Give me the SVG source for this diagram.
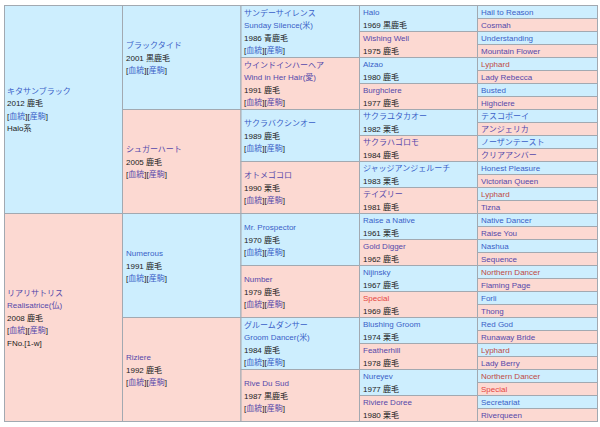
<svg xmlns="http://www.w3.org/2000/svg" width="600" height="427" viewBox="0 0 600 427">
<style>
text{font-family:"Liberation Sans","Noto Sans CJK JP",sans-serif;font-size:8px;fill:#222}
.b{fill:#cdeefe;stroke:#a2a9b1;stroke-width:1}
.p{fill:#fcd9d2;stroke:#a2a9b1;stroke-width:1}
.m{fill:#3a5fc8}
.f{fill:#5548aa}
.r{fill:#bf4a44}
.rs{fill:#e5463f}
</style>
<rect x="0" y="0" width="600" height="427" fill="#ffffff"/>
<!-- Column 1 -->
<g id="kitasan-black"><rect class="b" x="4.5" y="5.5" width="118" height="208"/>
<text x="7" y="93.75" class="m">キタサンブラック</text>
<text x="7" y="106.25">2012 鹿毛</text>
<text x="7" y="118.75">[<tspan class="m">血統</tspan>][<tspan class="m">産駒</tspan>]</text>
<text x="7" y="131.25">Halo系</text></g>
<g id="realisatrice"><rect class="p" x="4.5" y="213.5" width="118" height="208"/>
<text x="7" y="295.5" class="f">リアリサトリス</text>
<text x="7" y="308" class="f">Realisatrice(仏)</text>
<text x="7" y="320.5">2008 鹿毛</text>
<text x="7" y="333">[<tspan class="f">血統</tspan>][<tspan class="f">産駒</tspan>]</text>
<text x="7" y="345.5">FNo.[1-w]</text></g>
<!-- Column 2 -->
<g id="black-tide"><rect class="b" x="122.5" y="5.5" width="118.5" height="104"/>
<text x="126" y="48" class="m">ブラックタイド</text>
<text x="126" y="60.5">2001 黒鹿毛</text>
<text x="126" y="73">[<tspan class="m">血統</tspan>][<tspan class="m">産駒</tspan>]</text></g>
<g id="sugar-heart"><rect class="p" x="122.5" y="109.5" width="118.5" height="104"/>
<text x="126" y="152" class="f">シュガーハート</text>
<text x="126" y="164.5">2005 鹿毛</text>
<text x="126" y="177">[<tspan class="f">血統</tspan>][<tspan class="f">産駒</tspan>]</text></g>
<g id="numerous"><rect class="b" x="122.5" y="213.5" width="118.5" height="104"/>
<text x="126" y="256" class="m">Numerous</text>
<text x="126" y="268.5">1991 鹿毛</text>
<text x="126" y="281">[<tspan class="m">血統</tspan>][<tspan class="m">産駒</tspan>]</text></g>
<g id="riziere"><rect class="p" x="122.5" y="317.5" width="118.5" height="104"/>
<text x="126" y="360" class="f">Riziere</text>
<text x="126" y="372.5">1992 鹿毛</text>
<text x="126" y="385">[<tspan class="f">血統</tspan>][<tspan class="f">産駒</tspan>]</text></g>
<!-- Column 3 -->
<g id="sunday-silence"><rect class="b" x="241" y="5.5" width="118.5" height="52"/>
<text x="244" y="15.75" class="m">サンデーサイレンス</text>
<text x="244" y="28.25" class="m">Sunday Silence(米)</text>
<text x="244" y="40.75">1986 青鹿毛</text>
<text x="244" y="53.25">[<tspan class="m">血統</tspan>][<tspan class="m">産駒</tspan>]</text></g>
<g id="wind-in-her-hair"><rect class="p" x="241" y="57.5" width="118.5" height="52"/>
<text x="244" y="67.75" class="f">ウインドインハーヘア</text>
<text x="244" y="80.25" class="f">Wind in Her Hair(愛)</text>
<text x="244" y="92.75">1991 鹿毛</text>
<text x="244" y="105.25">[<tspan class="f">血統</tspan>][<tspan class="f">産駒</tspan>]</text></g>
<g id="sakura-bakushin-o"><rect class="b" x="241" y="109.5" width="118.5" height="52"/>
<text x="244" y="126" class="m">サクラバクシンオー</text>
<text x="244" y="138.5">1989 鹿毛</text>
<text x="244" y="151">[<tspan class="m">血統</tspan>][<tspan class="m">産駒</tspan>]</text></g>
<g id="otome-gokoro"><rect class="p" x="241" y="161.5" width="118.5" height="52"/>
<text x="244" y="178" class="f">オトメゴコロ</text>
<text x="244" y="190.5">1990 栗毛</text>
<text x="244" y="203">[<tspan class="f">血統</tspan>][<tspan class="f">産駒</tspan>]</text></g>
<g id="mr-prospector"><rect class="b" x="241" y="213.5" width="118.5" height="52"/>
<text x="244" y="230" class="m">Mr. Prospector</text>
<text x="244" y="242.5">1970 鹿毛</text>
<text x="244" y="255">[<tspan class="m">血統</tspan>][<tspan class="m">産駒</tspan>]</text></g>
<g id="number"><rect class="p" x="241" y="265.5" width="118.5" height="52"/>
<text x="244" y="282" class="f">Number</text>
<text x="244" y="294.5">1979 鹿毛</text>
<text x="244" y="307">[<tspan class="f">血統</tspan>][<tspan class="f">産駒</tspan>]</text></g>
<g id="groom-dancer"><rect class="b" x="241" y="317.5" width="118.5" height="52"/>
<text x="244" y="327.75" class="m">グルームダンサー</text>
<text x="244" y="340.25" class="m">Groom Dancer(米)</text>
<text x="244" y="352.75">1984 鹿毛</text>
<text x="244" y="365.25">[<tspan class="m">血統</tspan>][<tspan class="m">産駒</tspan>]</text></g>
<g id="rive-du-sud"><rect class="p" x="241" y="369.5" width="118.5" height="52"/>
<text x="244" y="386" class="f">Rive Du Sud</text>
<text x="244" y="398.5">1987 黒鹿毛</text>
<text x="244" y="411">[<tspan class="f">血統</tspan>][<tspan class="f">産駒</tspan>]</text></g>
<!-- Column 4 -->
<g id="halo"><rect class="b" x="359.5" y="5.5" width="118" height="26"/><text x="363" y="15.25" class="m">Halo</text><text x="363" y="27.75">1969 黒鹿毛</text></g>
<g id="wishing-well"><rect class="p" x="359.5" y="31.5" width="118" height="26"/><text x="363" y="41.25" class="f">Wishing Well</text><text x="363" y="53.75">1975 鹿毛</text></g>
<g id="alzao"><rect class="b" x="359.5" y="57.5" width="118" height="26"/><text x="363" y="67.25" class="m">Alzao</text><text x="363" y="79.75">1980 鹿毛</text></g>
<g id="burghclere"><rect class="p" x="359.5" y="83.5" width="118" height="26"/><text x="363" y="93.25" class="f">Burghclere</text><text x="363" y="105.75">1977 鹿毛</text></g>
<g id="sakura-yutaka-o"><rect class="b" x="359.5" y="109.5" width="118" height="26"/><text x="363" y="119.25" class="m">サクラユタカオー</text><text x="363" y="131.75">1982 栗毛</text></g>
<g id="sakura-hagoromo"><rect class="p" x="359.5" y="135.5" width="118" height="26"/><text x="363" y="145.25" class="f">サクラハゴロモ</text><text x="363" y="157.75">1984 鹿毛</text></g>
<g id="judge-angelucci"><rect class="b" x="359.5" y="161.5" width="118" height="26"/><text x="363" y="171.25" class="m">ジャッジアンジェルーチ</text><text x="363" y="183.75">1983 栗毛</text></g>
<g id="teizuri"><rect class="p" x="359.5" y="187.5" width="118" height="26"/><text x="363" y="197.25" class="f">テイズリー</text><text x="363" y="209.75">1981 鹿毛</text></g>
<g id="raise-a-native"><rect class="b" x="359.5" y="213.5" width="118" height="26"/><text x="363" y="223.25" class="m">Raise a Native</text><text x="363" y="235.75">1961 栗毛</text></g>
<g id="gold-digger"><rect class="p" x="359.5" y="239.5" width="118" height="26"/><text x="363" y="249.25" class="f">Gold Digger</text><text x="363" y="261.75">1962 鹿毛</text></g>
<g id="nijinsky"><rect class="b" x="359.5" y="265.5" width="118" height="26"/><text x="363" y="275.25" class="m">Nijinsky</text><text x="363" y="287.75">1967 鹿毛</text></g>
<g id="special"><rect class="p" x="359.5" y="291.5" width="118" height="26"/><text x="363" y="301.25" class="rs">Special</text><text x="363" y="313.75">1969 鹿毛</text></g>
<g id="blushing-groom"><rect class="b" x="359.5" y="317.5" width="118" height="26"/><text x="363" y="327.25" class="m">Blushing Groom</text><text x="363" y="339.75">1974 栗毛</text></g>
<g id="featherhill"><rect class="p" x="359.5" y="343.5" width="118" height="26"/><text x="363" y="353.25" class="f">Featherhill</text><text x="363" y="365.75">1978 鹿毛</text></g>
<g id="nureyev"><rect class="b" x="359.5" y="369.5" width="118" height="26"/><text x="363" y="379.25" class="m">Nureyev</text><text x="363" y="391.75">1977 鹿毛</text></g>
<g id="riviere-doree"><rect class="p" x="359.5" y="395.5" width="118" height="26"/><text x="363" y="405.25" class="f">Riviere Doree</text><text x="363" y="417.75">1980 栗毛</text></g>
<!-- Column 5 -->
<g id="hail-to-reason"><rect class="b" x="477.5" y="5.5" width="120" height="13"/><text x="481" y="15" class="m">Hail to Reason</text></g>
<g id="cosmah"><rect class="p" x="477.5" y="18.5" width="120" height="13"/><text x="481" y="28" class="f">Cosmah</text></g>
<g id="understanding"><rect class="b" x="477.5" y="31.5" width="120" height="13"/><text x="481" y="41" class="m">Understanding</text></g>
<g id="mountain-flower"><rect class="p" x="477.5" y="44.5" width="120" height="13"/><text x="481" y="54" class="f">Mountain Flower</text></g>
<g id="lyphard-1"><rect class="b" x="477.5" y="57.5" width="120" height="13"/><text x="481" y="67" class="r">Lyphard</text></g>
<g id="lady-rebecca"><rect class="p" x="477.5" y="70.5" width="120" height="13"/><text x="481" y="80" class="f">Lady Rebecca</text></g>
<g id="busted"><rect class="b" x="477.5" y="83.5" width="120" height="13"/><text x="481" y="93" class="m">Busted</text></g>
<g id="highclere"><rect class="p" x="477.5" y="96.5" width="120" height="13"/><text x="481" y="106" class="f">Highclere</text></g>
<g id="tesco-boy"><rect class="b" x="477.5" y="109.5" width="120" height="13"/><text x="481" y="119" class="m">テスコボーイ</text></g>
<g id="angelica"><rect class="p" x="477.5" y="122.5" width="120" height="13"/><text x="481" y="132" class="f">アンジェリカ</text></g>
<g id="northern-taste"><rect class="b" x="477.5" y="135.5" width="120" height="13"/><text x="481" y="145" class="m">ノーザンテースト</text></g>
<g id="clear-amber"><rect class="p" x="477.5" y="148.5" width="120" height="13"/><text x="481" y="158" class="f">クリアアンバー</text></g>
<g id="honest-pleasure"><rect class="b" x="477.5" y="161.5" width="120" height="13"/><text x="481" y="171" class="m">Honest Pleasure</text></g>
<g id="victorian-queen"><rect class="p" x="477.5" y="174.5" width="120" height="13"/><text x="481" y="184" class="f">Victorian Queen</text></g>
<g id="lyphard-2"><rect class="b" x="477.5" y="187.5" width="120" height="13"/><text x="481" y="197" class="r">Lyphard</text></g>
<g id="tizna"><rect class="p" x="477.5" y="200.5" width="120" height="13"/><text x="481" y="210" class="f">Tizna</text></g>
<g id="native-dancer"><rect class="b" x="477.5" y="213.5" width="120" height="13"/><text x="481" y="223" class="m">Native Dancer</text></g>
<g id="raise-you"><rect class="p" x="477.5" y="226.5" width="120" height="13"/><text x="481" y="236" class="f">Raise You</text></g>
<g id="nashua"><rect class="b" x="477.5" y="239.5" width="120" height="13"/><text x="481" y="249" class="m">Nashua</text></g>
<g id="sequence"><rect class="p" x="477.5" y="252.5" width="120" height="13"/><text x="481" y="262" class="f">Sequence</text></g>
<g id="northern-dancer-1"><rect class="b" x="477.5" y="265.5" width="120" height="13"/><text x="481" y="275" class="r">Northern Dancer</text></g>
<g id="flaming-page"><rect class="p" x="477.5" y="278.5" width="120" height="13"/><text x="481" y="288" class="f">Flaming Page</text></g>
<g id="forli"><rect class="b" x="477.5" y="291.5" width="120" height="13"/><text x="481" y="301" class="m">Forli</text></g>
<g id="thong"><rect class="p" x="477.5" y="304.5" width="120" height="13"/><text x="481" y="314" class="f">Thong</text></g>
<g id="red-god"><rect class="b" x="477.5" y="317.5" width="120" height="13"/><text x="481" y="327" class="m">Red God</text></g>
<g id="runaway-bride"><rect class="p" x="477.5" y="330.5" width="120" height="13"/><text x="481" y="340" class="f">Runaway Bride</text></g>
<g id="lyphard-3"><rect class="b" x="477.5" y="343.5" width="120" height="13"/><text x="481" y="353" class="r">Lyphard</text></g>
<g id="lady-berry"><rect class="p" x="477.5" y="356.5" width="120" height="13"/><text x="481" y="366" class="f">Lady Berry</text></g>
<g id="northern-dancer-2"><rect class="b" x="477.5" y="369.5" width="120" height="13"/><text x="481" y="379" class="r">Northern Dancer</text></g>
<g id="special-2"><rect class="p" x="477.5" y="382.5" width="120" height="13"/><text x="481" y="392" class="rs">Special</text></g>
<g id="secretariat"><rect class="b" x="477.5" y="395.5" width="120" height="13"/><text x="481" y="405" class="m">Secretariat</text></g>
<g id="riverqueen"><rect class="p" x="477.5" y="408.5" width="120" height="13"/><text x="481" y="418" class="f">Riverqueen</text></g>
<g id="connectors"></g>
</svg>
